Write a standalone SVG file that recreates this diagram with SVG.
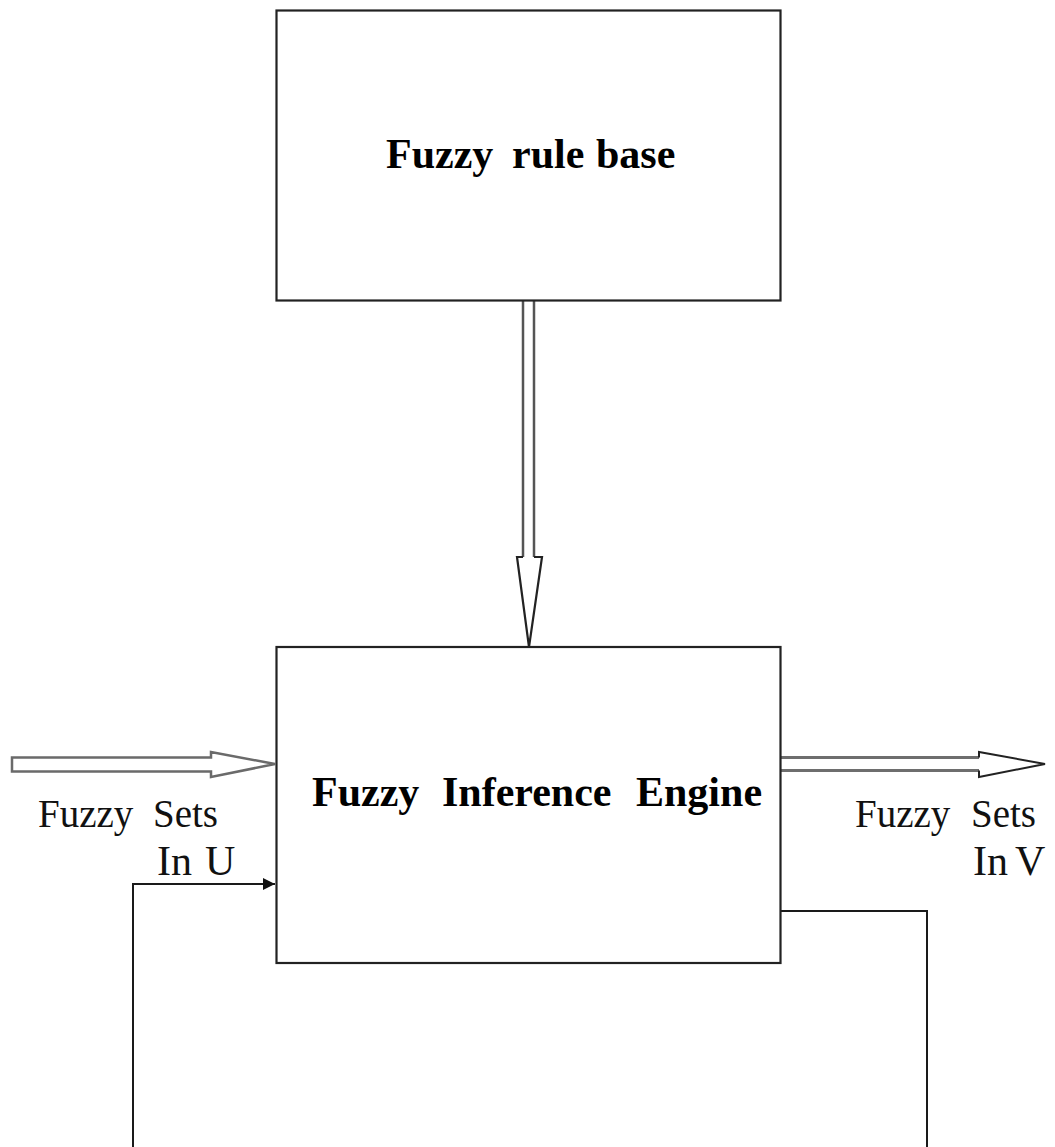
<svg xmlns="http://www.w3.org/2000/svg" width="1055" height="1147" viewBox="0 0 1055 1147">
  <style>
    .box { fill: #ffffff; stroke: #222222; stroke-width: 2.2; }
    .wire { fill: none; stroke: #1a1a1a; stroke-width: 2; }
    .hollow { fill: #ffffff; stroke: #6a6a6a; stroke-width: 2.5; stroke-linejoin: miter; }
    .shaft { fill: none; stroke: #6e6e6e; stroke-width: 3; }
    .title { font-family: "Liberation Serif", "Times New Roman", serif; font-weight: bold; font-size: 42px; fill: #000000; }
    .label { font-family: "Liberation Serif", "Times New Roman", serif; font-size: 39px; fill: #111111; }
    .label-big { font-family: "Liberation Serif", "Times New Roman", serif; font-size: 42px; fill: #111111; }
  </style>
  <defs>
    <marker id="solid-head" viewBox="0 0 10 10" refX="10" refY="5" markerWidth="12" markerHeight="12" markerUnits="userSpaceOnUse" orient="auto">
      <path d="M0,0 L10,5 L0,10 Z" fill="#111111"/>
    </marker>
  </defs>

  <rect width="1055" height="1147" fill="#ffffff"/>

  <!-- connectors -->
  <g id="connectors">
    <!-- rule base down into the inference engine: double shaft with hollow head -->
    <g id="rules-to-engine">
      <line x1="523" y1="300" x2="523" y2="558" stroke="#555555" stroke-width="2.5"/>
      <line x1="534" y1="300" x2="534" y2="558" stroke="#555555" stroke-width="2.5"/>
      <path d="M523,557 L517,557 L529,647 L542,557 L534,557" fill="#ffffff" stroke="#222222" stroke-width="2.2" stroke-linejoin="miter"/>
    </g>
    <!-- input fuzzy sets -->
    <g id="input-arrow">
      <path class="hollow" d="M12,757.5 L211,757.5 L211,752 L275,764 L211,777 L211,771.5 L12,771.5 Z"/>
    </g>
    <!-- output fuzzy sets -->
    <g id="output-arrow">
      <line class="shaft" x1="781" y1="757.5" x2="979" y2="757.5"/>
      <line class="shaft" x1="781" y1="770.5" x2="979" y2="770.5"/>
      <path d="M979,757.5 L979,752 L1045,764 L979,777 L979,770.5" fill="#ffffff" stroke="#222222" stroke-width="2" stroke-linejoin="miter"/>
    </g>
    <!-- feedback loop -->
    <g id="feedback">
      <polyline class="wire" points="781,911 927,911 927,1147"/>
      <polyline class="wire" points="133,1147 133,884 275,884" marker-end="url(#solid-head)"/>
    </g>
  </g>

  <!-- nodes -->
  <g id="rule-base">
    <rect class="box" x="276.5" y="10.5" width="504" height="290"/>
    <text class="title" y="168"><tspan x="386">Fuzzy</tspan><tspan x="512">rule</tspan><tspan x="596">base</tspan></text>
  </g>

  <g id="inference-engine">
    <rect class="box" x="276.5" y="647" width="504" height="316"/>
    <text class="title" y="806"><tspan x="312">Fuzzy</tspan><tspan x="442">Inference</tspan><tspan x="636">Engine</tspan></text>
  </g>

  <g id="input-label">
    <text class="label" y="827"><tspan x="38">Fuzzy</tspan><tspan x="153">Sets</tspan></text>
    <text class="label-big" y="875"><tspan x="157">In</tspan><tspan x="205">U</tspan></text>
  </g>

  <g id="output-label">
    <text class="label" y="827"><tspan x="855">Fuzzy</tspan><tspan x="971">Sets</tspan></text>
    <text class="label-big" y="875"><tspan x="973">In</tspan><tspan x="1015">V</tspan></text>
  </g>
</svg>
